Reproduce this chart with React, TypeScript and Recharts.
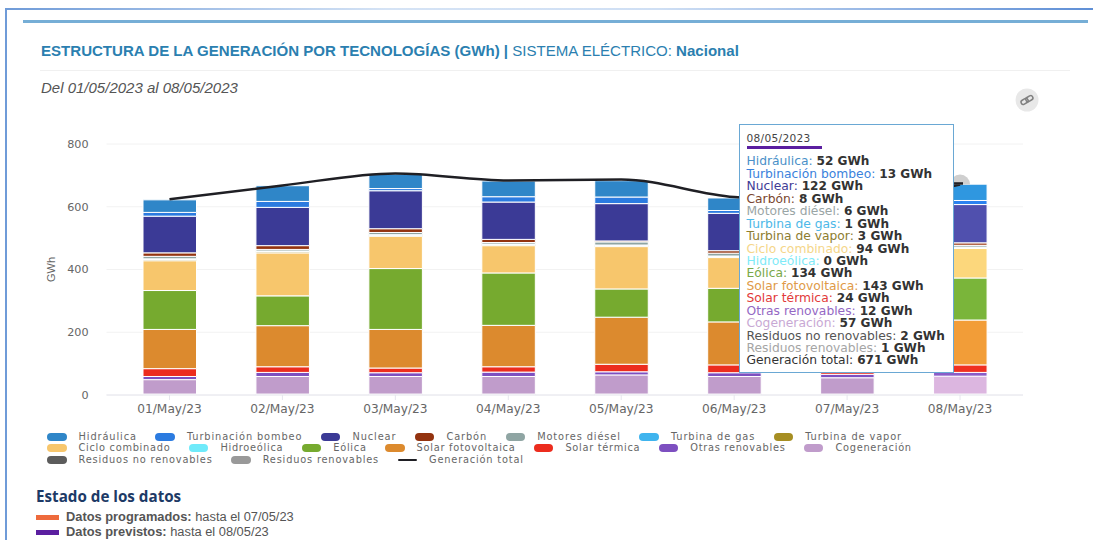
import { Bar, CartesianGrid, Cell, ComposedChart, Line, Tooltip, XAxis, YAxis } from 'recharts';

const dates = ['01/May/23', '02/May/23', '03/May/23', '04/May/23', '05/May/23', '06/May/23', '07/May/23', '08/May/23'];
const yTicks = [0, 200, 400, 600, 800];

// GWh per day, one array per technology
const hidraulica = [40, 50, 46, 50, 52, 40, 50, 52];
const turbinacion = [12, 19, 7, 17, 21, 9, 12, 13];
const nuclear = [117, 122, 121, 119, 119, 119, 122, 122];
const carbon = [11, 12, 12, 10, 3, 8, 8, 8];
const motores = [8, 5, 7, 5, 10, 9, 6, 6];
const turbinaGas = [2, 2, 2, 2, 2, 2, 1, 1];
const turbinaVapor = [4, 4, 3, 3, 3, 3, 3, 3];
const cicloCombinado = [95, 137, 103, 87, 135, 98, 90, 94];
const hidroeolica = [0, 0, 0, 0, 0, 0, 0, 0];
const eolica = [124, 95, 194, 167, 90, 107, 110, 134];
const solarFv = [125, 131, 123, 132, 150, 137, 130, 143];
const solarTermica = [25, 18, 15, 17, 24, 25, 14, 24];
const otrasRenovables = [10, 13, 12, 14, 10, 12, 11, 12];
const cogeneracion = [46, 56, 56, 56, 61, 56, 52, 57];
const residuosNoRenov = [2, 2, 2, 2, 2, 2, 2, 2];
const residuosRenov = [1, 1, 1, 1, 1, 1, 1, 1];
const generacionTotal = [624, 668, 706, 684, 687, 631, 618, 671];

// Listed in tooltip/legend order; stacked bottom-up in reverse.
// "forecast" is the brighter fill used for the last (forecast) day.
const series = [
  { key: 'Hidráulica', values: hidraulica, color: '#2f86c8', forecast: '#2f97e0', label: '#4a90c8' },
  { key: 'Turbinación bombeo', values: turbinacion, color: '#2b7be0', forecast: '#2a82f0', label: '#3a82dc' },
  { key: 'Nuclear', values: nuclear, color: '#3b3a96', forecast: '#5050ae', label: '#3f3c96' },
  { key: 'Carbón', values: carbon, color: '#93330f', forecast: '#a34a2a', label: '#7a4630' },
  { key: 'Motores diésel', values: motores, color: '#8fa5a3', forecast: '#a3b5b3', label: '#9aa5a5' },
  { key: 'Turbina de gas', values: turbinaGas, color: '#3fb4ee', forecast: '#5cc2f2', label: '#4db8e8' },
  { key: 'Turbina de vapor', values: turbinaVapor, color: '#a68e22', forecast: '#b8a03a', label: '#8d7d30' },
  { key: 'Ciclo combinado', values: cicloCombinado, color: '#f7c66c', forecast: '#fcd77c', label: '#f5d68a' },
  { key: 'Hidroeólica', values: hidroeolica, color: '#6feafa', forecast: '#6feafa', label: '#7eeaf8' },
  { key: 'Eólica', values: eolica, color: '#76aa2f', forecast: '#7ab53a', label: '#7aa848' },
  { key: 'Solar fotovoltaica', values: solarFv, color: '#dc8a2e', forecast: '#f29d38', label: '#e09a48' },
  { key: 'Solar térmica', values: solarTermica, color: '#ec2c1e', forecast: '#f03020', label: '#e23a3a' },
  { key: 'Otras renovables', values: otrasRenovables, color: '#7d4fc0', forecast: '#8a5cc8', label: '#9468c4' },
  { key: 'Cogeneración', values: cogeneracion, color: '#c09ccb', forecast: '#dcb6e0', label: '#c8a8d4' },
  { key: 'Residuos no renovables', values: residuosNoRenov, color: '#5c5c5c', forecast: '#6a6a6a', label: '#555555' },
  { key: 'Residuos renovables', values: residuosRenov, color: '#999999', forecast: '#a8a8a8', label: '#a5a5a5' },
];

const chartData = dates.map((date, i) => {
  const row: Record<string, string | number> = { date, 'Generación total': generacionTotal[i] };
  series.forEach((s) => {
    row[s.key] = s.values[i];
  });
  return row;
});

const DEJAVU = '"DejaVu Sans", sans-serif';
const LIBERATION = '"Liberation Sans", sans-serif';

const FixedTooltip = ({ payload }: any) => {
  if (!payload || payload.length === 0) return null;
  const row = payload[0].payload;
  return (
    <div
      style={{
        width: 215,
        height: 249,
        boxSizing: 'border-box',
        background: '#fff',
        border: '1.5px solid #6aa8d4',
        padding: '7px 0 0 6.5px',
        fontFamily: DEJAVU,
        fontSize: 12.3,
        lineHeight: '12.44px',
        whiteSpace: 'nowrap',
      }}
    >
      <div style={{ fontSize: 10.6, color: '#444', letterSpacing: 0.3 }}>08/05/2023</div>
      <div style={{ width: 75, height: 3, background: '#5b1fa0', margin: '2px 0 6px' }} />
      {series.map((s) => (
        <div key={s.key}>
          <span style={{ color: s.label }}>{s.key}: </span>
          <b style={{ color: '#333', fontSize: 12.1 }}>{row[s.key]} GWh</b>
        </div>
      ))}
      <div>
        <span style={{ color: '#333' }}>Generación total: </span>
        <b style={{ color: '#333', fontSize: 12.1 }}>{row['Generación total']} GWh</b>
      </div>
    </div>
  );
};

// Hover marker: the halo only shows above the top of the bar
const HoverDot = ({ cx, cy }: any) => (
  <g>
    <path d={`M ${cx - 10} ${cy} A 10 10 0 0 1 ${cx + 10} ${cy} Z`} fill="#cfcfcf" />
    <path d={`M ${cx - 6} ${cy - 1} H ${cx + 3}`} stroke="#1f1f24" strokeWidth={2.5} />
  </g>
);

const LegendKey = ({ color, line }: { color: string; line?: boolean }) => (
  <span
    style={{
      display: 'inline-block',
      width: 19.5,
      height: line ? 2 : 8,
      borderRadius: 4,
      background: color,
      marginRight: 12,
      verticalAlign: 'middle',
    }}
  />
);

const legendRows = [series.slice(0, 7), series.slice(7, 14), series.slice(14)];
const legendLetterSpacing = [0.9, 0.72, 0.82];

const App = () => (
  <div style={{ position: 'absolute', left: 0, top: 0, width: 1093, height: 540, overflow: 'hidden', background: '#fff' }}>
    {/* page frame */}
    <div style={{ position: 'absolute', left: 5, top: 8, width: 1088, height: 2, background: 'linear-gradient(90deg, #6f9bd8, #d5e3f5 35%, #cfdff4 60%, #5f8fd6)' }} />
    <div style={{ position: 'absolute', left: 5, top: 8, width: 2, height: 532, background: '#6f9bd8' }} />
    <div style={{ position: 'absolute', left: 23, top: 20, width: 1065, height: 3, background: '#76aed6' }} />

    <div style={{ position: 'absolute', left: 41, top: 41.5, fontFamily: LIBERATION, fontSize: 15.05, color: '#2b7fb0', whiteSpace: 'nowrap' }}>
      <b>ESTRUCTURA DE LA GENERACIÓN POR TECNOLOGÍAS (GWh) |</b> SISTEMA ELÉCTRICO: <b>Nacional</b>
    </div>
    <div style={{ position: 'absolute', left: 40, top: 70, width: 1030, height: 1, background: '#f0f0f0' }} />
    <div style={{ position: 'absolute', left: 41, top: 79, fontFamily: LIBERATION, fontSize: 15, fontStyle: 'italic', color: '#555', whiteSpace: 'nowrap' }}>
      Del 01/05/2023 al 08/05/2023
    </div>

    <div style={{ position: 'absolute', left: 0, top: 0 }}>
      <ComposedChart width={1093} height={420} data={chartData} margin={{ top: 144, right: 70, bottom: 0, left: 46 }}>
        <CartesianGrid vertical={false} stroke="#f2f2f2" />
        <XAxis
          dataKey="date"
          height={25}
          padding={{ left: 6.5, right: 6.5 }}
          tick={{ fill: '#666', fontFamily: DEJAVU, fontSize: 12.2 }}
          axisLine={{ stroke: '#e6e6ee' }}
          tickLine={{ stroke: '#e6e6ee' }}
          tickSize={5}
          tickMargin={4}
          interval={0}
        />
        <YAxis
          width={60.5}
          domain={[0, 800]}
          ticks={yTicks}
          axisLine={false}
          tickLine={false}
          tickMargin={12}
          tick={{ fill: '#666', fontFamily: DEJAVU, fontSize: 11.2 }}
          label={{ value: 'GWh', angle: -90, position: 'insideLeft', offset: 5, textAnchor: 'middle', fill: '#666', fontFamily: LIBERATION, fontSize: 11 }}
        />
        <Tooltip
          active
          defaultIndex={7}
          cursor={false}
          isAnimationActive={false}
          position={{ x: 739, y: 124 }}
          allowEscapeViewBox={{ x: true, y: true }}
          wrapperStyle={{ zIndex: 5, outline: 'none' }}
          content={<FixedTooltip />}
        />
        {[...series].reverse().map((s) => (
          <Bar key={s.key} dataKey={s.key} stackId="gen" barSize={53.5} fill={s.color} stroke="#fff" strokeWidth={1} isAnimationActive={false}>
            {dates.map((d, i) => (
              <Cell key={d} fill={i === dates.length - 1 ? s.forecast : s.color} />
            ))}
          </Bar>
        ))}
        <Line
          dataKey="Generación total"
          type="monotone"
          stroke="#1f1f24"
          strokeWidth={2.5}
          dot={false}
          activeDot={(props: any) => <HoverDot {...props} />}
          isAnimationActive={false}
        />
      </ComposedChart>
    </div>

    {/* legend, three rows */}
    <div style={{ position: 'absolute', left: 47, top: 430.5, fontFamily: DEJAVU, fontSize: 9.8, lineHeight: '11.5px', color: '#666', whiteSpace: 'nowrap' }}>
      {legendRows.map((row, r) => (
        <div key={r} style={{ letterSpacing: legendLetterSpacing[r] }}>
          {row.map((s) => (
            <span key={s.key} style={{ marginRight: 18.5 }}>
              <LegendKey color={s.color} />
              {s.key}
            </span>
          ))}
          {r === 2 && (
            <span>
              <LegendKey color="#1f1f24" line />
              Generación total
            </span>
          )}
        </div>
      ))}
    </div>

    <div style={{ position: 'absolute', left: 36, top: 486, fontFamily: '"Open Sans", sans-serif', fontWeight: 700, fontSize: 15.2, color: '#1d3a66', whiteSpace: 'nowrap' }}>
      Estado de los datos
    </div>
    <div style={{ position: 'absolute', left: 36, top: 508.5, fontFamily: LIBERATION, fontSize: 12.85, color: '#555', whiteSpace: 'nowrap' }}>
      <span style={{ display: 'inline-block', width: 23, height: 5, background: '#ee6a3c', marginRight: 7, verticalAlign: 'middle' }} />
      <b>Datos programados:</b> hasta el 07/05/23
    </div>
    <div style={{ position: 'absolute', left: 36, top: 524, fontFamily: LIBERATION, fontSize: 12.85, color: '#555', whiteSpace: 'nowrap' }}>
      <span style={{ display: 'inline-block', width: 23, height: 5, background: '#5b1fa0', marginRight: 7, verticalAlign: 'middle' }} />
      <b>Datos previstos:</b> hasta el 08/05/23
    </div>

    {/* share link button */}
    <svg style={{ position: 'absolute', left: 1014.5, top: 88 }} width="24" height="24" viewBox="0 0 24 24">
      <circle cx="12" cy="12" r="11.5" fill="#e8e8e8" />
      <g fill="none" stroke="#808080" strokeWidth="1.5" transform="rotate(-30 12 12)">
        <rect x="5.5" y="9.8" width="7.5" height="4.4" rx="2.2" />
        <rect x="11" y="9.8" width="7.5" height="4.4" rx="2.2" />
      </g>
    </svg>
  </div>
);

export default App;
